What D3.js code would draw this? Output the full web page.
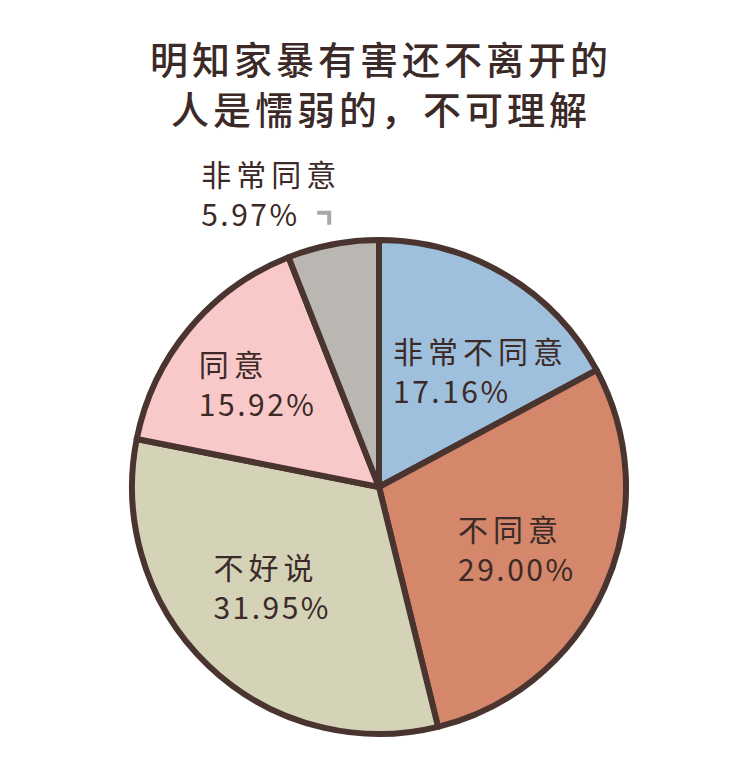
<!DOCTYPE html>
<html>
<head>
<meta charset="utf-8">
<script src="https://cdn.jsdelivr.net/npm/d3@7"></script>
<style>
  html, body { margin: 0; padding: 0; background: #ffffff; }
  svg { display: block; }
  text { font-family: "Noto Sans CJK SC", "Noto Sans", sans-serif; fill: #3b2a27; }
</style>
</head>
<body>
<svg id="chart" width="750" height="769"></svg>
<script>
// Survey answers, in drawing order (clockwise from 12 o'clock)
const categories = ["非常不同意", "不同意", "不好说", "同意", "非常同意"];
const percentages = [17.16, 29.00, 31.95, 15.92, 5.97];
const sliceColors = ["#9fc0dc", "#d4876b", "#d4d3b8", "#f8c9c8", "#bab7b2"];
const titleLines = ["明知家暴有害还不离开的", "人是懦弱的，不可理解"];

// Label block offsets from each slice centroid (left edge of text, first-line centre)
const labelOffsets = [[-63, -8], [-58, -20], [-62, -29], [-65, -28]];

const cx = 379, cy = 487, R = 247;
const lineGap = 40;
const svg = d3.select("#chart");

// Title
svg.selectAll("text.title")
  .data(titleLines)
  .join("text")
  .attr("class", "title")
  .attr("x", cx + 2)
  .attr("y", (d, i) => 57 + i * 50)
  .attr("text-anchor", "middle")
  .attr("dominant-baseline", "central")
  .attr("font-size", 38)
  .attr("font-weight", 500)
  .attr("letter-spacing", 4)
  .text(d => d);

const data = categories.map((c, i) => ({ name: c, value: percentages[i], color: sliceColors[i] }));

const pie = d3.pie().sort(null).value(d => d.value).startAngle(0).endAngle(2 * Math.PI);
const arcs = pie(data);
const arc = d3.arc().innerRadius(0).outerRadius(R);
const labelArc = d3.arc().innerRadius(150).outerRadius(150);
const outerArc = d3.arc().innerRadius(R + 20).outerRadius(R + 20);

const g = svg.append("g").attr("transform", `translate(${cx},${cy})`);

g.selectAll("path.slice")
  .data(arcs)
  .join("path")
  .attr("class", "slice")
  .attr("d", arc)
  .attr("fill", d => d.data.color)
  .attr("stroke", "#4a3430")
  .attr("stroke-width", 6)
  .attr("stroke-linejoin", "round");

// Two-line label: category name, then percentage
function drawLabel(x, y, d) {
  g.append("text")
    .attr("x", x).attr("y", y)
    .attr("font-size", 30)
    .attr("letter-spacing", 5)
    .attr("dominant-baseline", "central")
    .text(d.data.name);
  g.append("text")
    .attr("x", x).attr("y", y + lineGap)
    .attr("font-size", 30)
    .attr("letter-spacing", 2.5)
    .attr("dominant-baseline", "central")
    .text(d.data.value.toFixed(2) + "%");
}

// Labels inside the larger slices
arcs.slice(0, 4).forEach(d => {
  const [x, y] = labelArc.centroid(d);
  const [ox, oy] = labelOffsets[d.index];
  drawLabel(x + ox, y + oy, d);
});

// Small slice labelled outside with a short hook
const small = arcs[4];
const [hx, hy] = outerArc.centroid(small);
g.append("path")
  .attr("d", `M${hx - 12},${hy - 12} L${hx},${hy - 12} L${hx},${hy}`)
  .attr("fill", "none")
  .attr("stroke", "#a9a7a4")
  .attr("stroke-width", 4);

drawLabel(hx - 128, hy - 52, small);
</script>
</body>
</html>
